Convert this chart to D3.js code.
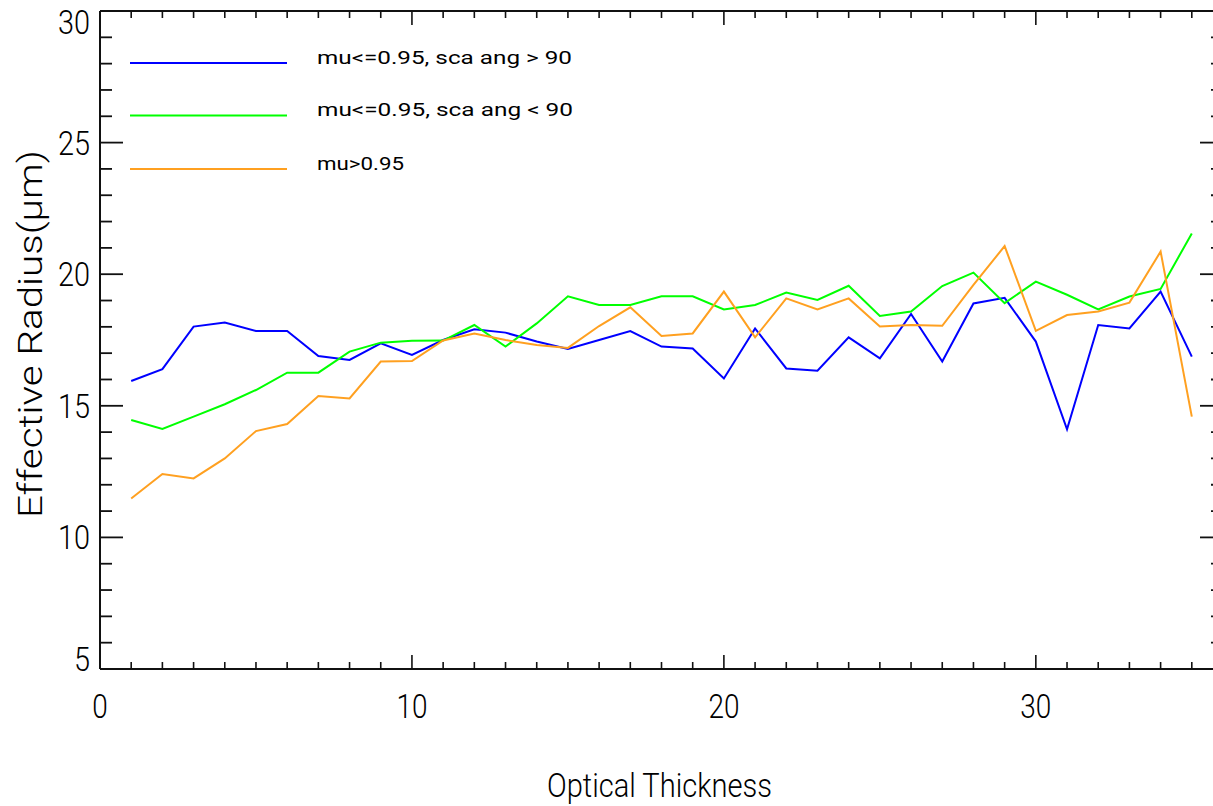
<!DOCTYPE html>
<html>
<head>
<meta charset="utf-8">
<script src="https://cdn.jsdelivr.net/npm/d3@7"></script>
<style>
  html, body { margin: 0; padding: 0; background: #fff; overflow: hidden; }
  svg { display: block; }
  text { font-family: Roboto, "DejaVu Sans", sans-serif; font-weight: 300; fill: #000; }
</style>
</head>
<body>
<svg id="chart" width="1213" height="806"></svg>
<script>
// ---- data ----
const opticalThickness = [1,2,3,4,5,6,7,8,9,10,11,12,13,14,15,16,17,18,19,20,21,22,23,24,25,26,27,28,29,30,31,32,33,34,35];
const backScatter = [15.94,16.39,18.01,18.16,17.84,17.84,16.89,16.74,17.37,16.93,
                     17.50,17.91,17.78,17.44,17.16,17.50,17.84,17.25,17.18,16.04,
                     17.94,16.42,16.33,17.60,16.80,18.49,16.68,18.89,19.10,17.44,
                     14.11,18.07,17.94,19.34,16.87];
const forwardScatter = [14.46,14.12,14.59,15.06,15.60,16.26,16.26,17.06,17.40,17.47,
                        17.48,18.07,17.25,18.13,19.16,18.83,18.83,19.16,19.16,18.66,
                        18.83,19.30,19.02,19.56,18.41,18.58,19.55,20.06,18.90,19.72,
                        19.22,18.66,19.15,19.44,21.55];
const highMu = [11.48,12.41,12.24,13.00,14.04,14.31,15.37,15.28,16.68,16.70,
                17.48,17.75,17.50,17.31,17.20,18.03,18.74,17.65,17.75,19.34,
                17.60,19.08,18.66,19.08,18.01,18.07,18.04,19.59,21.07,17.85,
                18.45,18.58,18.92,20.86,14.59];
const seriesNames = ["mu<=0.95, sca ang > 90", "mu<=0.95, sca ang < 90", "mu>0.95"];
const seriesColors = ["#0000ff", "#00ff00", "#ffa020"];
const xTickLabels = [0, 10, 20, 30];
const yTickLabels = [5, 10, 15, 20, 25, 30];
const xLabel = "Optical Thickness";
const yLabel = "Effective Radius(\u03bcm)";

// ---- layout ----
const svg = d3.select("#chart");
const L = 100, R = 1223, T = 11, B = 669;
const x = d3.scaleLinear().domain([0, 36]).range([L, R]);
const y = d3.scaleLinear().domain([5, 30]).range([B, T]);

svg.append("rect").attr("width", 1213).attr("height", 806).attr("fill", "#fff");

const series = [backScatter, forwardScatter, highMu];
const line = d3.line().x((d, i) => x(opticalThickness[i])).y(d => y(d));
series.forEach((s, k) => {
  svg.append("path").datum(s)
    .attr("d", line)
    .attr("fill", "none")
    .attr("stroke", seriesColors[k])
    .attr("stroke-width", 2)
    .attr("stroke-linejoin", "miter");
});

// ---- axes ----
const axisColor = "#111";
const xMinor = d3.range(0, 37, 1);
const yMinor = d3.range(5, 31, 1);

function drawX(yPos, dir) {
  const g = svg.append("g");
  g.append("line").attr("x1", L).attr("x2", R).attr("y1", yPos).attr("y2", yPos)
    .attr("stroke", axisColor).attr("stroke-width", 2);
  g.selectAll("line.t").data(xMinor).enter().append("line")
    .attr("x1", d => x(d)).attr("x2", d => x(d))
    .attr("y1", yPos)
    .attr("y2", d => yPos + dir * (d % 10 === 0 ? 14 : 7))
    .attr("stroke", axisColor).attr("stroke-width", 1.6);
}
function drawY(xPos, dir) {
  const g = svg.append("g");
  g.append("line").attr("x1", xPos).attr("x2", xPos).attr("y1", T).attr("y2", B)
    .attr("stroke", axisColor).attr("stroke-width", 2);
  g.selectAll("line.t").data(yMinor).enter().append("line")
    .attr("y1", d => y(d)).attr("y2", d => y(d))
    .attr("x1", xPos)
    .attr("x2", d => xPos + dir * (d % 5 === 0 ? 23 : 12))
    .attr("stroke", axisColor).attr("stroke-width", 1.8);
}
drawX(B, -1);
drawX(T, 1);
drawY(L, 1);
drawY(R, -1);

// tick labels
svg.selectAll("text.xt").data(xTickLabels).enter().append("text")
  .attr("x", d => x(d)).attr("y", 718)
  .attr("text-anchor", "middle")
  .attr("font-size", 33)
  .attr("textLength", d => String(d).length * 15.5)
  .attr("lengthAdjust", "spacingAndGlyphs")
  .text(d => d);

const labH = 24;
svg.selectAll("text.yt").data(yTickLabels).enter().append("text")
  .attr("x", 90)
  .attr("y", d => Math.min(Math.max(y(d), T + labH / 2 - 1), B - labH / 2 + 2) + labH / 2)
  .attr("text-anchor", "end")
  .attr("font-size", 33)
  .attr("textLength", d => String(d).length * 16)
  .attr("lengthAdjust", "spacingAndGlyphs")
  .text(d => d);

// axis titles
svg.append("text")
  .attr("x", 659.5).attr("y", 797)
  .attr("text-anchor", "middle")
  .attr("font-size", 34)
  .attr("textLength", 225)
  .attr("lengthAdjust", "spacingAndGlyphs")
  .text(xLabel);

svg.append("text")
  .attr("transform", "translate(42,334) rotate(-90)")
  .attr("text-anchor", "middle")
  .attr("font-size", 34)
  .attr("textLength", 368)
  .attr("lengthAdjust", "spacingAndGlyphs")
  .text(yLabel);

// ---- legend ----
const legendY = [63, 115.5, 169];
const legendW = [255, 256, 87];
seriesNames.forEach((name, k) => {
  svg.append("line")
    .attr("x1", 130).attr("x2", 287)
    .attr("y1", legendY[k]).attr("y2", legendY[k])
    .attr("stroke", seriesColors[k]).attr("stroke-width", 2);
  svg.append("text")
    .attr("x", 317).attr("y", legendY[k] + 0.5)
    .attr("font-size", 19)
    .style("font-weight", 400)
    .attr("textLength", legendW[k])
    .attr("lengthAdjust", "spacingAndGlyphs")
    .text(name);
});
</script>
</body>
</html>
